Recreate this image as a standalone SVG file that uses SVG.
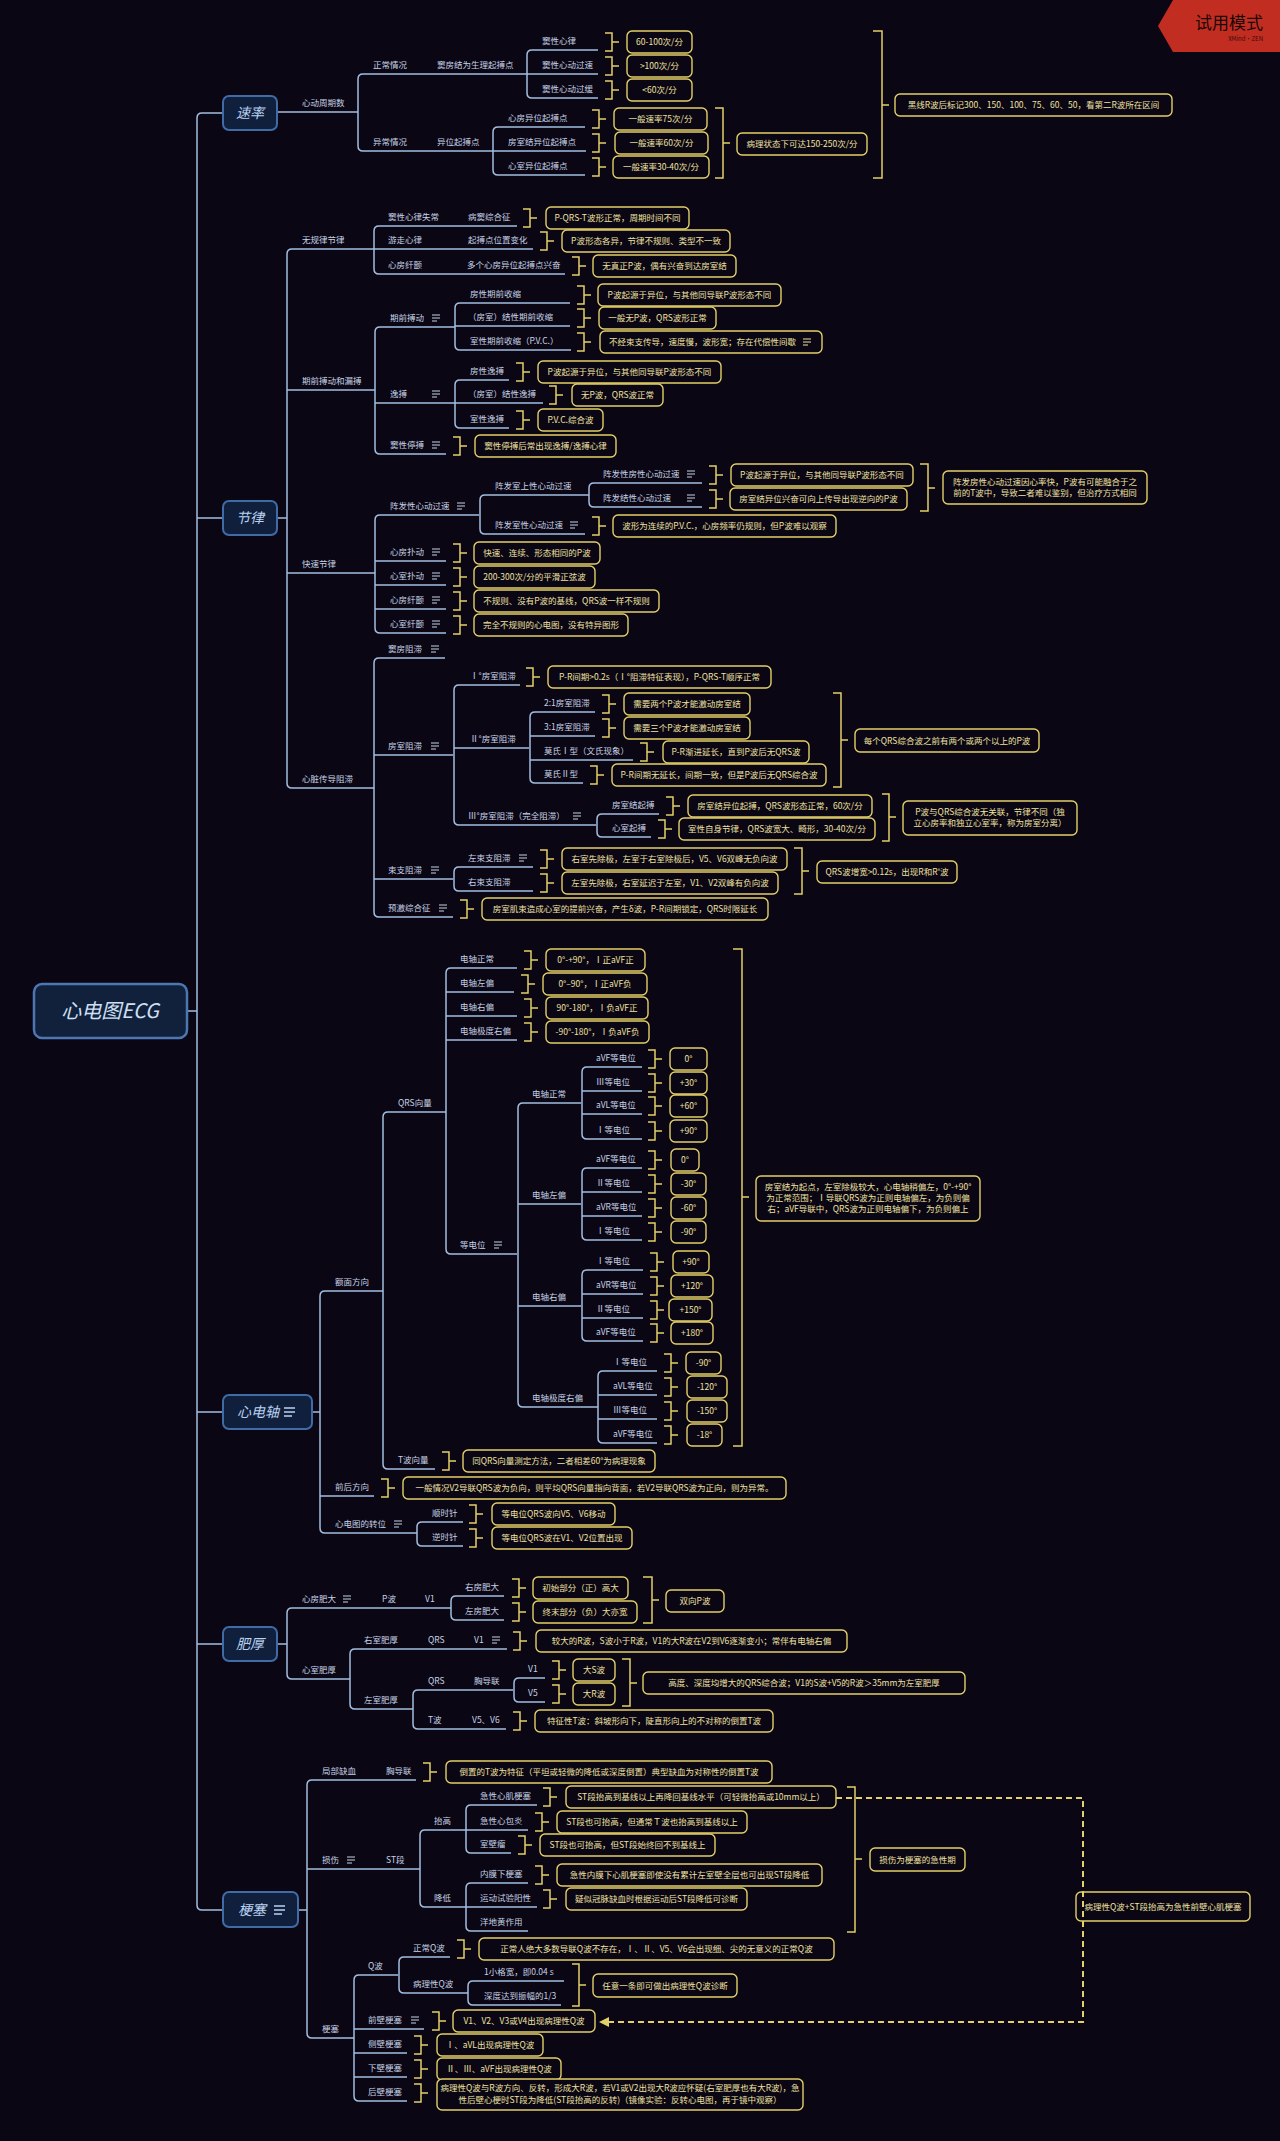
<svg xmlns="http://www.w3.org/2000/svg" width="1280" height="2141" viewBox="0 0 1280 2141">
<style>
text{font-family:"Noto Sans CJK SC","Noto Sans",sans-serif}
.l{font-size:8.5px;fill:#c6d3e6}
.t{font-size:8.5px;fill:#efe3a2;text-anchor:middle}
.ts{font-size:8.5px;fill:#efe3a2}
.b{fill:#0b0613;stroke:#e2d06a;stroke-width:1.4}
.c{fill:none;stroke:#a3bde0;stroke-width:1.5}
.k{fill:none;stroke:#e2d06a;stroke-width:1.5}
.m{fill:#10203c;stroke:#3f6ba6;stroke-width:2}
.mt{font-size:14px;font-style:italic;fill:#b9d1f0;text-anchor:middle}
.ni{fill:none;stroke:#c6d3e6;stroke-width:1}
.nb{fill:none;stroke:#efe3a2;stroke-width:1}
.nm{fill:none;stroke:#b9d1f0;stroke-width:1.3}
</style>
<defs>
<path id="ni" class="ni" d="M0,-3h8M0,0h8M0,3h5"/>
<path id="nb" class="nb" d="M0,-3h8M0,0h8M0,3h5"/>
</defs>
<rect width="1280" height="2141" fill="#0b0613"/>

<g id="connectors">
<path class="c" stroke-width="2" d="M223,113H202Q197,113 197,118V1905Q197,1910 202,1910H223M197,518H223M197,1412H223M197,1644H223M187,1011H197"/>
<path class="c" d="M277,112H358M527,74H363Q358,74 358,79V146Q358,151 363,151H493M598,50H532Q527,50 527,55V93Q527,98 532,98H598M527,74H598M585,127H498Q493,127 493,132V170Q493,175 498,175H585M493,151H586"/>
<path class="c" d="M277,518H287M374,249H292Q287,249 287,254V783Q287,788 292,788H374M287,390H375M287,573H375M517,226H379Q374,226 374,231V269Q374,274 379,274H565M374,249H533M455,327H380Q375,327 375,332V449Q375,454 380,454H446M375,403H455M570,303H460Q455,303 455,308V345Q455,350 460,350H571M455,326H570M509,380H460Q455,380 455,385V423Q455,428 460,428H509M455,403H543M479,515H380Q375,515 375,520V628Q375,633 380,633H446M375,561H446M375,585H446M375,609H446M589,495H485Q480,495 480,500V529Q480,534 485,534H585M702,483H594Q589,483 589,488V502Q589,507 594,507H702M445,658H379Q374,658 374,663V912Q374,917 379,917H453M374,755H453M374,879H453M520,685H459Q454,685 454,690V820Q454,825 459,825H596M454,748H529M595,712H535Q530,712 530,717V778Q530,783 535,783H583M530,736H595M530,760H633M659,814H602Q597,814 597,819V832Q597,837 602,837H651M533,867H459Q454,867 454,872V886Q454,891 459,891H533"/>
<path class="c" d="M312,1412H320M383,1291H325Q320,1291 320,1296V1528Q320,1533 325,1533H417M320,1496H374M446,1112H388Q383,1112 383,1117V1464Q383,1469 388,1469H435M517,968H451Q446,968 446,973V1249Q446,1254 451,1254H517M446,992H514M446,1016H517M446,1040H517M581,1103H523Q518,1103 518,1108V1402Q518,1407 523,1407H598M518,1204H581M518,1306H581M642,1067H587Q582,1067 582,1072V1134Q582,1139 587,1139H642M582,1091H642M582,1114H642M642,1168H587Q582,1168 582,1173V1235Q582,1240 587,1240H642M582,1192H642M582,1216H642M643,1270H587Q582,1270 582,1275V1336Q582,1341 587,1341H643M582,1294H643M582,1318H643M657,1371H603Q598,1371 598,1376V1438Q598,1443 603,1443H657M598,1395H657M598,1419H657M463,1522H422Q417,1522 417,1527V1541Q417,1546 422,1546H463"/>
<path class="c" d="M277,1644H287M451,1608H292Q287,1608 287,1613V1674Q287,1679 292,1679H350M504,1596H456Q451,1596 451,1601V1615Q451,1620 456,1620H504M507,1649H355Q350,1649 350,1654V1704Q350,1709 355,1709H413M513,1690H418Q413,1690 413,1695V1724Q413,1729 418,1729H506M545,1678H519Q514,1678 514,1683V1697Q514,1702 519,1702H545"/>
<path class="c" d="M298,1910H307M416,1780H312Q307,1780 307,1785V2033Q307,2038 312,2038H354M307,1869H420M466,1830H425Q420,1830 420,1835V1902Q420,1907 425,1907H466M537,1805H471Q466,1805 466,1810V1848Q466,1853 471,1853H511M466,1830H528M528,1883H471Q466,1883 466,1888V1926Q466,1931 471,1931H528M466,1907H537M398,1975H359Q354,1975 354,1980V2096Q354,2101 359,2101H407M354,2029H424M354,2053H407M354,2077H407M450,1957H404Q399,1957 399,1962V1988Q399,1993 404,1993H468M564,1981H473Q468,1981 468,1986V2000Q468,2005 473,2005H561"/>
</g>

<g id="summaries">
<path class="k" d="M605,33H612V51H605M612,42H619M605,57H612V75H605M612,66H619M605,81H612V99H605M612,90H619M592,110H599V128H592M599,119H606M592,134H599V152H592M599,143H606M592,158H599V176H592M599,167H606M715,108H723V178H715M723,143H730M873,31H882V178H873M882,105H889"/>
<path class="k" d="M523,209H530V227H523M530,218H537M540,232H547V250H540M547,241H554M572,257H579V275H572M579,266H586M577,286H584V304H577M584,295H591M577,309H584V327H577M584,318H591M577,333H584V351H577M584,342H591M516,363H523V381H516M523,372H530M549,386H556V404H549M556,395H563M516,411H523V429H516M523,420H530M453,437H460V455H453M460,446H467M709,466H716V484H709M716,475H723M709,490H716V508H709M716,499H723M592,517H599V535H592M599,526H606M453,544H460V562H453M460,553H467M453,568H460V586H453M460,577H467M453,592H460V610H453M460,601H467M453,616H460V634H453M460,625H467M526,668H533V686H526M533,677H540M602,695H609V713H602M609,704H616M602,719H609V737H602M609,728H616M640,743H647V761H640M647,752H654M590,766H597V784H590M597,775H604M666,797H673V815H666M673,806H680M658,820H665V838H658M665,829H672M540,850H547V868H540M547,859H554M540,874H547V892H540M547,883H554M460,900H467V918H460M467,909H474M920,464H928V511H920M928,488H935M833,693H841V787H833M841,740H848M882,794H889V841H882M889,817H896M794,848H802V894H794M802,871H809"/>
<path class="k" d="M524,951H531V969H524M531,960H538M521,975H528V993H521M528,984H535M524,999H531V1017H524M531,1008H538M524,1023H531V1041H524M531,1032H538M648,1050H655V1068H648M655,1059H662M648,1074H655V1092H648M655,1083H662M648,1097H655V1115H648M655,1106H662M648,1122H655V1140H648M655,1131H662M648,1151H655V1169H648M655,1160H662M648,1175H655V1193H648M655,1184H662M648,1199H655V1217H648M655,1208H662M648,1223H655V1241H648M655,1232H662M650,1253H657V1271H650M657,1262H664M650,1277H657V1295H650M657,1286H664M650,1301H657V1319H650M657,1310H664M650,1324H657V1342H650M657,1333H664M664,1354H671V1372H664M671,1363H678M664,1378H671V1396H664M671,1387H678M664,1402H671V1420H664M671,1411H678M664,1426H671V1444H664M671,1435H678M442,1452H449V1470H442M449,1461H456M381,1479H388V1497H381M388,1488H395M469,1505H476V1523H469M476,1514H483M469,1529H476V1547H469M476,1538H483M733,949H742V1446H733M742,1197H749"/>
<path class="k" d="M512,1579H519V1597H512M519,1588H526M512,1603H519V1621H512M519,1612H526M513,1632H520V1650H513M520,1641H527M552,1661H559V1679H552M559,1670H566M552,1685H559V1703H552M559,1694H566M513,1712H520V1730H513M520,1721H527M643,1577H652V1623H643M652,1600H659M622,1659H630V1706H622M630,1683H637"/>
<path class="k" d="M423,1763H430V1781H423M430,1772H437M543,1788H550V1806H543M550,1797H557M535,1813H542V1831H535M542,1822H549M518,1836H525V1854H518M525,1845H532M535,1866H542V1884H535M542,1875H549M543,1890H550V1908H543M550,1899H557M457,1940H464V1958H457M464,1949H471M432,2012H439V2030H432M439,2021H446M414,2036H421V2054H414M421,2045H428M414,2060H421V2078H414M421,2069H428M414,2084H421V2102H414M421,2093H428M847,1787H855V1932H847M855,1859H862M572,1964H579V2006H572M579,1985H586"/>
</g>

<g id="root"><rect x="34" y="984" width="153" height="54" rx="8" fill="#11203b" stroke="#4b77b2" stroke-width="2.5"/><text x="110" y="1018" font-size="20" font-style="italic" fill="#cfe0f6" text-anchor="middle">心电图ECG</text></g>
<g id="m-rate"><rect class="m" x="223" y="96" width="54" height="34" rx="6"/><text class="mt" x="250" y="118">速率</text></g>
<g id="m-rhythm"><rect class="m" x="223" y="501" width="54" height="34" rx="6"/><text class="mt" x="250" y="523">节律</text></g>
<g id="m-axis"><rect class="m" x="223" y="1395" width="89" height="34" rx="6"/><text class="mt" x="258" y="1417">心电轴</text><path class="nm" d="M284,1408h11M284,1412h11M284,1416h8"/></g>
<g id="m-hyper"><rect class="m" x="223" y="1627" width="54" height="34" rx="6"/><text class="mt" x="250" y="1649">肥厚</text></g>
<g id="m-infarct"><rect class="m" x="223" y="1892" width="75" height="35" rx="6"/><text class="mt" x="252" y="1915">梗塞</text><path class="nm" d="M274,1906h11M274,1910h11M274,1914h8"/></g>

<g id="labels-rate">
<g id="l1"><text class="l" x="302" y="106">心动周期数</text></g>
<g id="l2"><text class="l" x="373" y="68">正常情况</text></g>
<g id="l3"><text class="l" x="437" y="68">窦房结为生理起搏点</text></g>
<g id="l4"><text class="l" x="542" y="44">窦性心律</text></g>
<g id="l5"><text class="l" x="542" y="68">窦性心动过速</text></g>
<g id="l6"><text class="l" x="542" y="92">窦性心动过缓</text></g>
<g id="l7"><text class="l" x="373" y="145">异常情况</text></g>
<g id="l8"><text class="l" x="437" y="145">异位起搏点</text></g>
<g id="l9"><text class="l" x="508" y="121">心房异位起搏点</text></g>
<g id="l10"><text class="l" x="508" y="145">房室结异位起搏点</text></g>
<g id="l11"><text class="l" x="508" y="169">心室异位起搏点</text></g>
</g>
<g id="boxes-rate">
<g id="b1"><rect class="b" x="627" y="31" width="65" height="22" rx="5"/><text class="t" x="659.5" y="45">60-100次/分</text></g>
<g id="b2"><rect class="b" x="627" y="55" width="65" height="22" rx="5"/><text class="t" x="659.5" y="69">&gt;100次/分</text></g>
<g id="b3"><rect class="b" x="627" y="79" width="65" height="22" rx="5"/><text class="t" x="659.5" y="93">&lt;60次/分</text></g>
<g id="b4"><rect class="b" x="614" y="108" width="93" height="22" rx="5"/><text class="t" x="660.5" y="122">一般速率75次/分</text></g>
<g id="b5"><rect class="b" x="615" y="132" width="93" height="22" rx="5"/><text class="t" x="661.5" y="146">一般速率60次/分</text></g>
<g id="b6"><rect class="b" x="613" y="156" width="96" height="22" rx="5"/><text class="t" x="661" y="170">一般速率30-40次/分</text></g>
<g id="s1"><rect class="b" x="737" y="133" width="130" height="22" rx="5"/><text class="t" x="802" y="147">病理状态下可达150-250次/分</text></g>
<g id="s2"><rect class="b" x="895" y="94" width="277" height="22" rx="5"/><text class="t" x="1033.5" y="108">黑线R波后标记300、150、100、75、60、50，看第二R波所在区间</text></g>
</g>

<g id="labels-rhythm">
<g id="l20"><text class="l" x="302" y="243">无规律节律</text></g>
<g id="l21"><text class="l" x="388" y="220">窦性心律失常</text></g>
<g id="l22"><text class="l" x="468" y="220">病窦综合征</text></g>
<g id="l23"><text class="l" x="388" y="243">游走心律</text></g>
<g id="l24"><text class="l" x="468" y="243">起搏点位置变化</text></g>
<g id="l25"><text class="l" x="388" y="268">心房纤颤</text></g>
<g id="l26"><text class="l" x="467" y="268">多个心房异位起搏点兴奋</text></g>
<g id="l27"><text class="l" x="302" y="384">期前搏动和漏搏</text></g>
<g id="l28"><text class="l" x="390" y="321">期前搏动</text><use href="#ni" x="432" y="318"/></g>
<g id="l29"><text class="l" x="470" y="297">房性期前收缩</text></g>
<g id="l30"><text class="l" x="468" y="320">（房室）结性期前收缩</text></g>
<g id="l31"><text class="l" x="470" y="344">室性期前收缩（P.V.C.）</text></g>
<g id="l32"><text class="l" x="390" y="397">逸搏</text><use href="#ni" x="432" y="394"/></g>
<g id="l33"><text class="l" x="470" y="374">房性逸搏</text></g>
<g id="l34"><text class="l" x="468" y="397">（房室）结性逸搏</text></g>
<g id="l35"><text class="l" x="470" y="422">室性逸搏</text></g>
<g id="l36"><text class="l" x="390" y="448">窦性停搏</text><use href="#ni" x="432" y="445"/></g>
<g id="l37"><text class="l" x="302" y="567">快速节律</text></g>
<g id="l38"><text class="l" x="390" y="509">阵发性心动过速</text><use href="#ni" x="457" y="506"/></g>
<g id="l39"><text class="l" x="495" y="489">阵发室上性心动过速</text></g>
<g id="l40"><text class="l" x="603" y="477">阵发性房性心动过速</text><use href="#ni" x="687" y="474"/></g>
<g id="l41"><text class="l" x="603" y="501">阵发结性心动过速</text><use href="#ni" x="687" y="498"/></g>
<g id="l42"><text class="l" x="495" y="528">阵发室性心动过速</text><use href="#ni" x="570" y="525"/></g>
<g id="l43"><text class="l" x="390" y="555">心房扑动</text><use href="#ni" x="432" y="552"/></g>
<g id="l44"><text class="l" x="390" y="579">心室扑动</text><use href="#ni" x="432" y="576"/></g>
<g id="l45"><text class="l" x="390" y="603">心房纤颤</text><use href="#ni" x="432" y="600"/></g>
<g id="l46"><text class="l" x="390" y="627">心室纤颤</text><use href="#ni" x="432" y="624"/></g>
<g id="l47"><text class="l" x="302" y="782">心脏传导阻滞</text></g>
<g id="l48"><text class="l" x="388" y="652">窦房阻滞</text><use href="#ni" x="431" y="649"/></g>
<g id="l49"><text class="l" x="388" y="749">房室阻滞</text><use href="#ni" x="431" y="746"/></g>
<g id="l50"><text class="l" x="470" y="679">Ⅰ°房室阻滞</text></g>
<g id="l51"><text class="l" x="470" y="742">Ⅱ°房室阻滞</text></g>
<g id="l52"><text class="l" x="544" y="706">2:1房室阻滞</text></g>
<g id="l53"><text class="l" x="544" y="730">3:1房室阻滞</text></g>
<g id="l54"><text class="l" x="544" y="754">莫氏Ⅰ型（文氏现象）</text></g>
<g id="l55"><text class="l" x="544" y="777">莫氏Ⅱ型</text></g>
<g id="l56"><text class="l" x="468" y="819">Ⅲ°房室阻滞（完全阻滞）</text><use href="#ni" x="573" y="816"/></g>
<g id="l57"><text class="l" x="612" y="808">房室结起搏</text></g>
<g id="l58"><text class="l" x="612" y="831">心室起搏</text></g>
<g id="l59"><text class="l" x="388" y="873">束支阻滞</text><use href="#ni" x="431" y="870"/></g>
<g id="l60"><text class="l" x="468" y="861">左束支阻滞</text><use href="#ni" x="519" y="858"/></g>
<g id="l61"><text class="l" x="468" y="885">右束支阻滞</text></g>
<g id="l62"><text class="l" x="388" y="911">预激综合征</text><use href="#ni" x="439" y="908"/></g>
</g>
<g id="boxes-rhythm">
<g id="b20"><rect class="b" x="546" y="207" width="143" height="22" rx="5"/><text class="t" x="617.5" y="221">P-QRS-T波形正常，周期时间不同</text></g>
<g id="b21"><rect class="b" x="562" y="230" width="168" height="22" rx="5"/><text class="t" x="646" y="244">P波形态各异，节律不规则、类型不一致</text></g>
<g id="b22"><rect class="b" x="593" y="255" width="143" height="22" rx="5"/><text class="t" x="664.5" y="269">无真正P波，偶有兴奋到达房室结</text></g>
<g id="b23"><rect class="b" x="598" y="284" width="183" height="22" rx="5"/><text class="t" x="689.5" y="298">P波起源于异位，与其他同导联P波形态不同</text></g>
<g id="b24"><rect class="b" x="599" y="307" width="117" height="22" rx="5"/><text class="t" x="657.5" y="321">一般无P波，QRS波形正常</text></g>
<g id="b25"><rect class="b" x="600" y="331" width="222" height="22" rx="5"/><text class="ts" x="609" y="345">不经束支传导，速度慢，波形宽；存在代偿性间歇</text><use href="#nb" x="803" y="342"/></g>
<g id="b26"><rect class="b" x="538" y="361" width="183" height="22" rx="5"/><text class="t" x="629.5" y="375">P波起源于异位，与其他同导联P波形态不同</text></g>
<g id="b27"><rect class="b" x="572" y="384" width="91" height="22" rx="5"/><text class="t" x="617.5" y="398">无P波，QRS波正常</text></g>
<g id="b28"><rect class="b" x="538" y="409" width="65" height="22" rx="5"/><text class="t" x="570.5" y="423">P.V.C.综合波</text></g>
<g id="b29"><rect class="b" x="475" y="435" width="141" height="22" rx="5"/><text class="t" x="545.5" y="449">窦性停搏后常出现逸搏/逸搏心律</text></g>
<g id="b30"><rect class="b" x="731" y="464" width="182" height="22" rx="5"/><text class="t" x="822" y="478">P波起源于异位，与其他同导联P波形态不同</text></g>
<g id="b31"><rect class="b" x="730" y="488" width="177" height="22" rx="5"/><text class="t" x="818.5" y="502">房室结异位兴奋可向上传导出现逆向的P波</text></g>
<g id="b32"><rect class="b" x="613" y="515" width="223" height="22" rx="5"/><text class="t" x="724.5" y="529">波形为连续的P.V.C.，心房频率仍规则，但P波难以观察</text></g>
<g id="b33"><rect class="b" x="474" y="542" width="126" height="22" rx="5"/><text class="t" x="537" y="556">快速、连续、形态相同的P波</text></g>
<g id="b34"><rect class="b" x="474" y="566" width="121" height="22" rx="5"/><text class="t" x="534.5" y="580">200-300次/分的平滑正弦波</text></g>
<g id="b35"><rect class="b" x="474" y="590" width="185" height="22" rx="5"/><text class="t" x="566.5" y="604">不规则、没有P波的基线，QRS波一样不规则</text></g>
<g id="b36"><rect class="b" x="474" y="614" width="154" height="22" rx="5"/><text class="t" x="551" y="628">完全不规则的心电图，没有特异图形</text></g>
<g id="b37"><rect class="b" x="548" y="666" width="223" height="22" rx="5"/><text class="t" x="659.5" y="680">P-R间期&gt;0.2s（Ⅰ°阻滞特征表现），P-QRS-T顺序正常</text></g>
<g id="b38"><rect class="b" x="624" y="693" width="126" height="22" rx="5"/><text class="t" x="687" y="707">需要两个P波才能激动房室结</text></g>
<g id="b39"><rect class="b" x="624" y="717" width="126" height="22" rx="5"/><text class="t" x="687" y="731">需要三个P波才能激动房室结</text></g>
<g id="b40"><rect class="b" x="663" y="741" width="146" height="22" rx="5"/><text class="t" x="736" y="755">P-R渐进延长，直到P波后无QRS波</text></g>
<g id="b41"><rect class="b" x="612" y="764" width="214" height="22" rx="5"/><text class="t" x="719" y="778">P-R间期无延长，间期一致，但是P波后无QRS综合波</text></g>
<g id="b42"><rect class="b" x="688" y="795" width="184" height="22" rx="5"/><text class="t" x="780" y="809">房室结异位起搏，QRS波形态正常，60次/分</text></g>
<g id="b43"><rect class="b" x="679" y="818" width="196" height="22" rx="5"/><text class="t" x="777" y="832">室性自身节律，QRS波宽大、畸形，30-40次/分</text></g>
<g id="b44"><rect class="b" x="562" y="848" width="225" height="22" rx="5"/><text class="t" x="674.5" y="862">右室先除极，左室于右室除极后，V5、V6双峰无负向波</text></g>
<g id="b45"><rect class="b" x="562" y="872" width="216" height="22" rx="5"/><text class="t" x="670" y="886">左室先除极，右室延迟于左室，V1、V2双峰有负向波</text></g>
<g id="b46"><rect class="b" x="482" y="898" width="286" height="22" rx="5"/><text class="t" x="625" y="912">房室肌束造成心室的提前兴奋，产生δ波，P-R间期锁定，QRS时限延长</text></g>
<g id="s20"><rect class="b" x="943" y="471" width="204" height="33" rx="5"/><text class="t" x="1045" y="485">阵发房性心动过速因心率快，P波有可能融合于之</text><text class="t" x="1045" y="496">前的T波中，导致二者难以鉴别，但治疗方式相同</text></g>
<g id="s21"><rect class="b" x="855" y="729" width="184" height="23" rx="5"/><text class="t" x="947" y="744">每个QRS综合波之前有两个或两个以上的P波</text></g>
<g id="s22"><rect class="b" x="903" y="801" width="174" height="34" rx="5"/><text class="t" x="990" y="815">P波与QRS综合波无关联，节律不同（独</text><text class="t" x="990" y="826">立心房率和独立心室率，称为房室分离）</text></g>
<g id="s23"><rect class="b" x="817" y="861" width="140" height="22" rx="5"/><text class="t" x="887" y="875">QRS波增宽&gt;0.12s，出现R和R'波</text></g>
</g>

<g id="labels-axis">
<g id="l70"><text class="l" x="335" y="1285">额面方向</text></g>
<g id="l71"><text class="l" x="398" y="1106">QRS向量</text></g>
<g id="l72"><text class="l" x="460" y="962">电轴正常</text></g>
<g id="l73"><text class="l" x="460" y="986">电轴左偏</text></g>
<g id="l74"><text class="l" x="460" y="1010">电轴右偏</text></g>
<g id="l75"><text class="l" x="460" y="1034">电轴极度右偏</text></g>
<g id="l76"><text class="l" x="460" y="1248">等电位</text><use href="#ni" x="494" y="1245"/></g>
<g id="l77"><text class="l" x="532" y="1097">电轴正常</text></g>
<g id="l78"><text class="l" x="596" y="1061">aVF等电位</text></g>
<g id="l79"><text class="l" x="596" y="1085">Ⅲ等电位</text></g>
<g id="l80"><text class="l" x="596" y="1108">aVL等电位</text></g>
<g id="l81"><text class="l" x="596" y="1133">Ⅰ等电位</text></g>
<g id="l82"><text class="l" x="532" y="1198">电轴左偏</text></g>
<g id="l83"><text class="l" x="596" y="1162">aVF等电位</text></g>
<g id="l84"><text class="l" x="596" y="1186">Ⅱ等电位</text></g>
<g id="l85"><text class="l" x="596" y="1210">aVR等电位</text></g>
<g id="l86"><text class="l" x="596" y="1234">Ⅰ等电位</text></g>
<g id="l87"><text class="l" x="532" y="1300">电轴右偏</text></g>
<g id="l88"><text class="l" x="596" y="1264">Ⅰ等电位</text></g>
<g id="l89"><text class="l" x="596" y="1288">aVR等电位</text></g>
<g id="l90"><text class="l" x="596" y="1312">Ⅱ等电位</text></g>
<g id="l91"><text class="l" x="596" y="1335">aVF等电位</text></g>
<g id="l92"><text class="l" x="532" y="1401">电轴极度右偏</text></g>
<g id="l93"><text class="l" x="613" y="1365">Ⅰ等电位</text></g>
<g id="l94"><text class="l" x="613" y="1389">aVL等电位</text></g>
<g id="l95"><text class="l" x="613" y="1413">Ⅲ等电位</text></g>
<g id="l96"><text class="l" x="613" y="1437">aVF等电位</text></g>
<g id="l97"><text class="l" x="398" y="1463">T波向量</text></g>
<g id="l98"><text class="l" x="335" y="1490">前后方向</text></g>
<g id="l99"><text class="l" x="335" y="1527">心电图的转位</text><use href="#ni" x="394" y="1524"/></g>
<g id="l100"><text class="l" x="432" y="1516">顺时针</text></g>
<g id="l101"><text class="l" x="432" y="1540">逆时针</text></g>
</g>
<g id="boxes-axis">
<g id="b70"><rect class="b" x="546" y="949" width="99" height="22" rx="5"/><text class="t" x="595.5" y="963">0°-+90°，Ⅰ正aVF正</text></g>
<g id="b71"><rect class="b" x="543" y="973" width="104" height="22" rx="5"/><text class="t" x="595" y="987">0°–90°，Ⅰ正aVF负</text></g>
<g id="b72"><rect class="b" x="546" y="997" width="102" height="22" rx="5"/><text class="t" x="597" y="1011">90°-180°，Ⅰ负aVF正</text></g>
<g id="b73"><rect class="b" x="546" y="1021" width="103" height="22" rx="5"/><text class="t" x="597.5" y="1035">-90°-180°，Ⅰ负aVF负</text></g>
<g id="b74"><rect class="b" x="670" y="1048" width="37" height="22" rx="5"/><text class="t" x="688.5" y="1062">0°</text></g>
<g id="b75"><rect class="b" x="670" y="1072" width="37" height="22" rx="5"/><text class="t" x="688.5" y="1086">+30°</text></g>
<g id="b76"><rect class="b" x="670" y="1095" width="37" height="22" rx="5"/><text class="t" x="688.5" y="1109">+60°</text></g>
<g id="b77"><rect class="b" x="670" y="1120" width="37" height="22" rx="5"/><text class="t" x="688.5" y="1134">+90°</text></g>
<g id="b78"><rect class="b" x="671" y="1149" width="28" height="22" rx="5"/><text class="t" x="685" y="1163">0°</text></g>
<g id="b79"><rect class="b" x="671" y="1173" width="35" height="22" rx="5"/><text class="t" x="688.5" y="1187">-30°</text></g>
<g id="b80"><rect class="b" x="671" y="1197" width="35" height="22" rx="5"/><text class="t" x="688.5" y="1211">-60°</text></g>
<g id="b81"><rect class="b" x="671" y="1221" width="35" height="22" rx="5"/><text class="t" x="688.5" y="1235">-90°</text></g>
<g id="b82"><rect class="b" x="673" y="1251" width="36" height="22" rx="5"/><text class="t" x="691" y="1265">+90°</text></g>
<g id="b83"><rect class="b" x="671" y="1275" width="42" height="22" rx="5"/><text class="t" x="692" y="1289">+120°</text></g>
<g id="b84"><rect class="b" x="669" y="1299" width="43" height="22" rx="5"/><text class="t" x="690.5" y="1313">+150°</text></g>
<g id="b85"><rect class="b" x="671" y="1322" width="42" height="22" rx="5"/><text class="t" x="692" y="1336">+180°</text></g>
<g id="b86"><rect class="b" x="686" y="1352" width="35" height="22" rx="5"/><text class="t" x="703.5" y="1366">-90°</text></g>
<g id="b87"><rect class="b" x="687" y="1376" width="40" height="22" rx="5"/><text class="t" x="707" y="1390">-120°</text></g>
<g id="b88"><rect class="b" x="687" y="1400" width="40" height="22" rx="5"/><text class="t" x="707" y="1414">-150°</text></g>
<g id="b89"><rect class="b" x="687" y="1424" width="35" height="22" rx="5"/><text class="t" x="704.5" y="1438">-18°</text></g>
<g id="b90"><rect class="b" x="463" y="1450" width="192" height="22" rx="5"/><text class="t" x="559" y="1464">同QRS向量测定方法，二者相差60°为病理现象</text></g>
<g id="b91"><rect class="b" x="403" y="1477" width="383" height="22" rx="5"/><text class="t" x="594.5" y="1491">一般情况V2导联QRS波为负向，则平均QRS向量指向背面，若V2导联QRS波为正向，则为异常。</text></g>
<g id="b92"><rect class="b" x="492" y="1503" width="123" height="22" rx="5"/><text class="t" x="553.5" y="1517">等电位QRS波向V5、V6移动</text></g>
<g id="b93"><rect class="b" x="492" y="1527" width="140" height="22" rx="5"/><text class="t" x="562" y="1541">等电位QRS波在V1、V2位置出现</text></g>
<g id="s70"><rect class="b" x="756" y="1176" width="224" height="45" rx="5"/><text class="t" x="868" y="1190">房室结为起点，左室除极较大，心电轴稍偏左，0°-+90°</text><text class="t" x="868" y="1201">为正常范围；Ⅰ导联QRS波为正则电轴偏左，为负则偏</text><text class="t" x="868" y="1212">右；aVF导联中，QRS波为正则电轴偏下，为负则偏上</text></g>
</g>

<g id="labels-hyper">
<g id="l110"><text class="l" x="302" y="1602">心房肥大</text><use href="#ni" x="343" y="1599"/></g>
<g id="l111"><text class="l" x="382" y="1602">P波</text></g>
<g id="l112"><text class="l" x="425" y="1602">V1</text></g>
<g id="l113"><text class="l" x="465" y="1590">右房肥大</text></g>
<g id="l114"><text class="l" x="465" y="1614">左房肥大</text></g>
<g id="l115"><text class="l" x="302" y="1673">心室肥厚</text></g>
<g id="l116"><text class="l" x="364" y="1643">右室肥厚</text></g>
<g id="l117"><text class="l" x="428" y="1643">QRS</text></g>
<g id="l118"><text class="l" x="474" y="1643">V1</text><use href="#ni" x="492" y="1640"/></g>
<g id="l119"><text class="l" x="364" y="1703">左室肥厚</text></g>
<g id="l120"><text class="l" x="428" y="1684">QRS</text></g>
<g id="l121"><text class="l" x="474" y="1684">胸导联</text></g>
<g id="l122"><text class="l" x="528" y="1672">V1</text></g>
<g id="l123"><text class="l" x="528" y="1696">V5</text></g>
<g id="l124"><text class="l" x="428" y="1723">T波</text></g>
<g id="l125"><text class="l" x="472" y="1723">V5、V6</text></g>
</g>
<g id="boxes-hyper">
<g id="b110"><rect class="b" x="533" y="1577" width="95" height="22" rx="5"/><text class="t" x="580.5" y="1591">初始部分（正）高大</text></g>
<g id="b111"><rect class="b" x="533" y="1601" width="104" height="22" rx="5"/><text class="t" x="585" y="1615">终末部分（负）大亦宽</text></g>
<g id="s110"><rect class="b" x="666" y="1590" width="58" height="22" rx="5"/><text class="t" x="695" y="1604">双向P波</text></g>
<g id="b112"><rect class="b" x="536" y="1630" width="311" height="22" rx="5"/><text class="t" x="691.5" y="1644">较大的R波，S波小于R波，V1的大R波在V2到V6逐渐变小；常伴有电轴右偏</text></g>
<g id="b113"><rect class="b" x="573" y="1659" width="42" height="22" rx="5"/><text class="t" x="594" y="1673">大S波</text></g>
<g id="b114"><rect class="b" x="573" y="1683" width="42" height="22" rx="5"/><text class="t" x="594" y="1697">大R波</text></g>
<g id="s111"><rect class="b" x="643" y="1672" width="322" height="22" rx="5"/><text class="t" x="804" y="1686">高度、深度均增大的QRS综合波；V1的S波+V5的R波＞35mm为左室肥厚</text></g>
<g id="b115"><rect class="b" x="535" y="1710" width="238" height="22" rx="5"/><text class="t" x="654" y="1724">特征性T波：斜坡形向下，陡直形向上的不对称的倒置T波</text></g>
</g>

<g id="labels-infarct">
<g id="l130"><text class="l" x="322" y="1774">局部缺血</text></g>
<g id="l131"><text class="l" x="386" y="1774">胸导联</text></g>
<g id="l132"><text class="l" x="322" y="1863">损伤</text><use href="#ni" x="347" y="1860"/></g>
<g id="l133"><text class="l" x="386" y="1863">ST段</text></g>
<g id="l134"><text class="l" x="434" y="1824">抬高</text></g>
<g id="l135"><text class="l" x="434" y="1901">降低</text></g>
<g id="l136"><text class="l" x="480" y="1799">急性心肌梗塞</text></g>
<g id="l137"><text class="l" x="480" y="1824">急性心包炎</text></g>
<g id="l138"><text class="l" x="480" y="1847">室壁瘤</text></g>
<g id="l139"><text class="l" x="480" y="1877">内膜下梗塞</text></g>
<g id="l140"><text class="l" x="480" y="1901">运动试验阳性</text></g>
<g id="l141"><text class="l" x="480" y="1925">洋地黄作用</text></g>
<g id="l142"><text class="l" x="322" y="2032">梗塞</text></g>
<g id="l143"><text class="l" x="368" y="1969">Q波</text></g>
<g id="l144"><text class="l" x="413" y="1951">正常Q波</text></g>
<g id="l145"><text class="l" x="413" y="1987">病理性Q波</text></g>
<g id="l146"><text class="l" x="484" y="1975">1小格宽，即0.04 s</text></g>
<g id="l147"><text class="l" x="484" y="1999">深度达到振幅的1/3</text></g>
<g id="l148"><text class="l" x="368" y="2023">前壁梗塞</text><use href="#ni" x="411" y="2020"/></g>
<g id="l149"><text class="l" x="368" y="2047">侧壁梗塞</text></g>
<g id="l150"><text class="l" x="368" y="2071">下壁梗塞</text></g>
<g id="l151"><text class="l" x="368" y="2095">后壁梗塞</text></g>
</g>
<g id="boxes-infarct">
<g id="b130"><rect class="b" x="446" y="1761" width="326" height="22" rx="5"/><text class="t" x="609" y="1775">倒置的T波为特征（平坦或轻微的降低或深度倒置）典型缺血为对称性的倒置T波</text></g>
<g id="b131"><rect class="b" x="566" y="1786" width="270" height="22" rx="5"/><text class="t" x="701" y="1800">ST段抬高到基线以上再降回基线水平（可轻微抬高或10mm以上）</text></g>
<g id="b132"><rect class="b" x="557" y="1811" width="190" height="22" rx="5"/><text class="t" x="652" y="1825">ST段也可抬高，但通常Ｔ波也抬高到基线以上</text></g>
<g id="b133"><rect class="b" x="540" y="1834" width="175" height="22" rx="5"/><text class="t" x="627.5" y="1848">ST段也可抬高，但ST段始终回不到基线上</text></g>
<g id="b134"><rect class="b" x="557" y="1864" width="265" height="22" rx="5"/><text class="t" x="689.5" y="1878">急性内膜下心肌梗塞即使没有累计左室壁全层也可出现ST段降低</text></g>
<g id="b135"><rect class="b" x="566" y="1888" width="181" height="22" rx="5"/><text class="t" x="656.5" y="1902">疑似冠脉缺血时根据运动后ST段降低可诊断</text></g>
<g id="s130"><rect class="b" x="870" y="1848" width="95" height="23" rx="5"/><text class="t" x="917.5" y="1863">损伤为梗塞的急性期</text></g>
<g id="b136"><rect class="b" x="479" y="1938" width="355" height="22" rx="5"/><text class="t" x="656.5" y="1952">正常人绝大多数导联Q波不存在，Ⅰ、Ⅱ、V5、V6会出现细、尖的无意义的正常Q波</text></g>
<g id="s131"><rect class="b" x="593" y="1974" width="144" height="23" rx="5"/><text class="t" x="665" y="1989">任意一条即可做出病理性Q波诊断</text></g>
<g id="b137"><rect class="b" x="453" y="2010" width="142" height="22" rx="5"/><text class="t" x="524" y="2024">V1、V2、V3或V4出现病理性Q波</text></g>
<g id="b138"><rect class="b" x="437" y="2034" width="106" height="22" rx="5"/><text class="t" x="490" y="2048">Ⅰ、aVL出现病理性Q波</text></g>
<g id="b139"><rect class="b" x="437" y="2058" width="124" height="22" rx="5"/><text class="t" x="499" y="2072">Ⅱ、Ⅲ、aVF出现病理性Q波</text></g>
<g id="b140"><rect class="b" x="437" y="2079" width="366" height="31" rx="5"/><text class="t" x="620" y="2091">病理性Q波与R波方向、反转，形成大R波，若V1或V2出现大R波应怀疑(右室肥厚也有大R波)，急</text><text class="t" x="620" y="2103">性后壁心梗时ST段为降低(ST段抬高的反转)（镜像实验：反转心电图，再于镜中观察）</text></g>
<g id="rel-label"><rect class="b" x="1076" y="1892" width="174" height="29" rx="5"/><text class="t" x="1163" y="1910">病理性Q波+ST段抬高为急性前壁心肌梗塞</text></g>
</g>

<g id="relationship">
<path d="M836,1798H1083V2022H609" fill="none" stroke="#e2d06a" stroke-width="2" stroke-dasharray="6 4"/>
<polygon points="599,2022 609,2017 609,2027" fill="#e2d06a"/>
</g>

<g id="watermark">
<polygon points="1158,26 1173,0 1280,0 1280,52 1173,52" fill="#c22d22"/>
<text x="1263" y="29" font-size="17" text-anchor="end" fill="#1a0606">试用模式</text>
<text x="1263" y="41" font-size="6" text-anchor="end" fill="#3a0a08">XMind·ZEN</text>
</g>
</svg>
